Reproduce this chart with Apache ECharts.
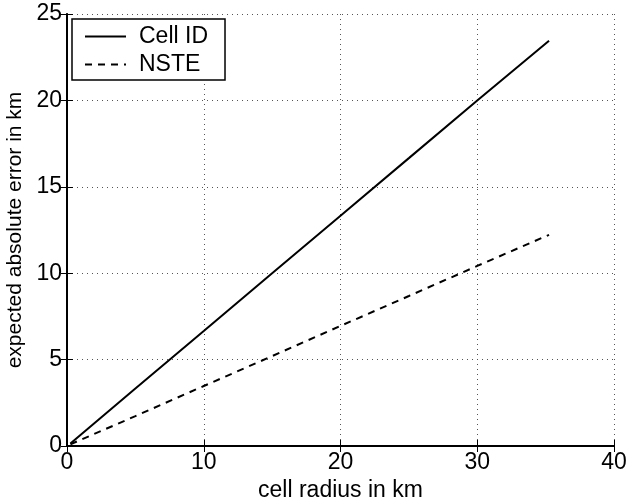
<!DOCTYPE html>
<html>
<head>
<meta charset="utf-8">
<script src="https://cdn.jsdelivr.net/npm/echarts@6/dist/echarts.min.js"></script>
<style>
  html, body { margin: 0; padding: 0; background: #fff; }
  #chart { width: 638px; height: 504px; }
</style>
</head>
<body>
<div id="chart"></div>
<script>
// values
const radius = [0.25, 5, 10, 15, 20, 25, 30, 35.25];
const cellId = [0.15, 3.33, 6.66, 10.0, 13.33, 16.66, 20.0, 23.45];
const nste = [0.1, 1.73, 3.47, 5.2, 6.95, 8.68, 10.42, 12.22];

const xTicks = [0, 10, 20, 30, 40];
const yTicks = [0, 5, 10, 15, 20, 25];

const font = "Liberation Sans, Arial, Helvetica, sans-serif";
const fs = 23;

const pairs = (xs, ys) => xs.map((x, i) => [x, ys[i]]);

const chart = echarts.init(document.getElementById("chart"));

const option = {
  animation: false,
  backgroundColor: "#fff",
  textStyle: { fontFamily: font },
  grid: {
    left: 67,
    right: 24,
    top: 14,
    bottom: 58,
    containLabel: false,
    outerBoundsMode: "none",
  },
  legend: {
    orient: "vertical",
    left: 72,
    top: 19,
    padding: [6, 17, 4, 12],
    itemGap: 5,
    itemWidth: 41,
    itemHeight: 14,
    backgroundColor: "#fff",
    borderColor: "#000",
    borderWidth: 1.5,
    itemStyle: { opacity: 0 },
    textStyle: { fontSize: fs, color: "#000", fontFamily: font, padding: [0, 0, 0, 8] },
    data: ["Cell ID", "NSTE"],
  },
  xAxis: [
    {
      type: "value",
      min: xTicks[0],
      max: xTicks[xTicks.length - 1],
      interval: 10,
      name: "cell radius in km",
      nameLocation: "middle",
      nameGap: 31,
      nameTextStyle: { fontSize: fs, color: "#000", fontFamily: font },
      axisLine: { lineStyle: { color: "#000", width: 2 } },
      axisTick: { inside: true, length: 6, lineStyle: { color: "#000" } },
      axisLabel: { fontSize: fs, color: "#000", margin: 5, fontFamily: font },
      splitLine: { show: true, lineStyle: { color: "#555", width: 1, type: [1, 4] } },
    },
    {
      type: "value",
      position: "top",
      min: xTicks[0],
      max: xTicks[xTicks.length - 1],
      interval: 10,
      axisLine: { show: true, lineStyle: { color: "#000", width: 1.5 } },
      axisTick: { show: true, inside: true, length: 6, lineStyle: { color: "#000" } },
      axisLabel: { show: false },
      splitLine: { show: false },
    },
  ],
  yAxis: [
    {
      type: "value",
      min: yTicks[0],
      max: yTicks[yTicks.length - 1],
      interval: 5,
      name: "expected absolute error in km",
      nameLocation: "middle",
      nameGap: 35,
      nameTextStyle: { fontSize: 21, color: "#000", fontFamily: font },
      axisLine: { show: true, lineStyle: { color: "#000", width: 2 } },
      axisTick: { show: true, inside: true, length: 6, lineStyle: { color: "#000" } },
      axisLabel: { fontSize: fs, color: "#000", margin: 5, fontFamily: font },
      splitLine: { show: true, lineStyle: { color: "#555", width: 1, type: [1, 4] } },
    },
    {
      type: "value",
      position: "right",
      min: yTicks[0],
      max: yTicks[yTicks.length - 1],
      interval: 5,
      axisLine: { show: true, lineStyle: { color: "#000", width: 1.5 } },
      axisTick: { show: true, inside: true, length: 6, lineStyle: { color: "#000" } },
      axisLabel: { show: false },
      splitLine: { show: false },
    },
  ],
  series: [
    {
      name: "Cell ID",
      type: "line",
      symbol: "none",
      data: pairs(radius, cellId),
      lineStyle: { color: "#000", width: 2, type: "solid" },
      itemStyle: { color: "#000" },
    },
    {
      name: "NSTE",
      type: "line",
      symbol: "none",
      data: pairs(radius, nste),
      lineStyle: { color: "#000", width: 2, type: [7, 6] },
      itemStyle: { color: "#000" },
    },
  ],
};

chart.setOption(option);
</script>
</body>
</html>
